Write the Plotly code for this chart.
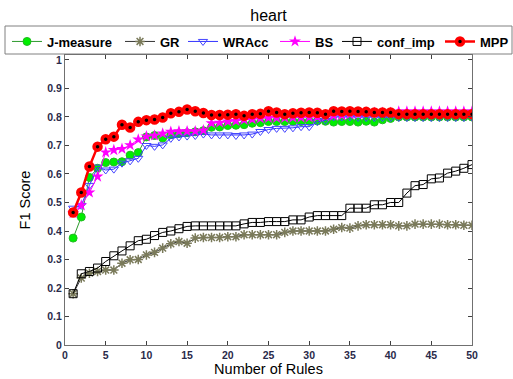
import plotly.graph_objects as go

rules = list(range(1, 51))

j_measure = [0.375, 0.449, 0.588, 0.620, 0.640, 0.642, 0.643, 0.666, 0.675, 0.730,
             0.735, 0.726, 0.738, 0.742, 0.745, 0.748, 0.752, 0.764, 0.765, 0.770,
             0.771, 0.773, 0.778, 0.780, 0.784, 0.784, 0.784, 0.785, 0.784, 0.785,
             0.786, 0.785, 0.782, 0.784, 0.784, 0.782, 0.785, 0.782, 0.790, 0.795,
             0.800, 0.800, 0.800, 0.800, 0.800, 0.800, 0.800, 0.800, 0.800, 0.800]

gr = [0.180, 0.235, 0.252, 0.258, 0.263, 0.263, 0.287, 0.299, 0.300, 0.316,
      0.325, 0.340, 0.355, 0.363, 0.357, 0.375, 0.377, 0.377, 0.377, 0.380,
      0.380, 0.387, 0.387, 0.387, 0.387, 0.387, 0.395, 0.400, 0.400, 0.400,
      0.400, 0.400, 0.406, 0.412, 0.410, 0.418, 0.422, 0.422, 0.422, 0.422,
      0.418, 0.418, 0.424, 0.424, 0.424, 0.424, 0.422, 0.422, 0.420, 0.420]

wracc = [0.480, 0.490, 0.560, 0.624, 0.614, 0.617, 0.638, 0.646, 0.655, 0.700,
         0.697, 0.702, 0.725, 0.730, 0.733, 0.735, 0.740, 0.737, 0.737, 0.737,
         0.735, 0.737, 0.740, 0.749, 0.756, 0.760, 0.760, 0.762, 0.766, 0.766,
         0.784, 0.788, 0.800, 0.800, 0.800, 0.798, 0.798, 0.798, 0.798, 0.798,
         0.798, 0.798, 0.798, 0.798, 0.798, 0.798, 0.798, 0.798, 0.798, 0.800]

bs = [0.463, 0.490, 0.535, 0.591, 0.676, 0.684, 0.688, 0.701, 0.721, 0.732,
      0.735, 0.742, 0.748, 0.750, 0.750, 0.750, 0.753, 0.778, 0.780, 0.784,
      0.786, 0.790, 0.792, 0.795, 0.797, 0.797, 0.797, 0.798, 0.798, 0.799,
      0.800, 0.802, 0.805, 0.806, 0.810, 0.812, 0.815, 0.815, 0.815, 0.815,
      0.819, 0.819, 0.819, 0.819, 0.819, 0.819, 0.819, 0.819, 0.819, 0.819]

conf_imp = [0.180, 0.250, 0.258, 0.270, 0.293, 0.313, 0.330, 0.348, 0.366, 0.371,
            0.384, 0.395, 0.400, 0.408, 0.416, 0.418, 0.418, 0.418, 0.418, 0.418,
            0.418, 0.425, 0.430, 0.430, 0.433, 0.433, 0.433, 0.439, 0.439, 0.449,
            0.454, 0.454, 0.454, 0.454, 0.480, 0.480, 0.480, 0.492, 0.492, 0.500,
            0.500, 0.533, 0.559, 0.563, 0.583, 0.586, 0.603, 0.610, 0.620, 0.633]

mpp = [0.465, 0.535, 0.626, 0.696, 0.722, 0.731, 0.773, 0.763, 0.783, 0.789,
       0.791, 0.798, 0.813, 0.818, 0.826, 0.820, 0.814, 0.807, 0.807, 0.808,
       0.810, 0.804, 0.810, 0.811, 0.820, 0.816, 0.810, 0.813, 0.815, 0.816,
       0.815, 0.810, 0.820, 0.819, 0.820, 0.819, 0.818, 0.816, 0.816, 0.816,
       0.810, 0.810, 0.810, 0.810, 0.810, 0.810, 0.810, 0.810, 0.810, 0.810]

series_names = ["J-measure", "GR", "WRAcc", "BS", "conf_imp", "MPP"]

x_ticks = list(range(0, 51, 5))
y_ticks = [round(0.1 * i, 1) for i in range(0, 11)]
y_tick_labels = ["0", "0.1", "0.2", "0.3", "0.4", "0.5", "0.6", "0.7", "0.8", "0.9", "1"]

FONT = "Liberation Sans, Arial, sans-serif"

# figure geometry (pixels)
W, H = 513, 379
ML, MR, MT, MB = 65, 41, 55, 34
PW, PH = W - ML - MR, H - MT - MB

def px_x(p):
    return (p - ML) / PW

def px_y(p):
    return (H - MB - p) / PH

# legend entry left edges (pixels) and legend box
legend_lefts = [7, 120, 183, 275, 337, 440]
legend_mid_y = 41.5
legend_box = (5, 26, 512, 54)

styles = [
    dict(line=dict(color="#2e9a2e", width=1),
         marker=dict(symbol="circle", size=8, color="#00ee00", line=dict(color="#22bb22", width=1))),
    dict(line=dict(color="#333333", width=1),
         marker=dict(symbol="asterisk-open", size=8, color="#7a7a5a", line=dict(color="#7a7a5a", width=1.5))),
    dict(line=dict(color="#3333ff", width=1),
         marker=dict(symbol="triangle-down-open", size=8, color="#4444ff", line=dict(color="#4444ff", width=1))),
    dict(line=dict(color="#ff00ff", width=1),
         marker=dict(symbol="star", size=9, color="#ff00ff", line=dict(color="#ff00ff", width=0))),
    dict(line=dict(color="#000000", width=1),
         marker=dict(symbol="square-open", size=8, color="#000000", line=dict(color="#000000", width=1))),
    dict(line=dict(color="#ff0000", width=2.5),
         marker=dict(symbol="circle", size=7, color="#000000", line=dict(color="#ff0000", width=3.5))),
]

values = [j_measure, gr, wracc, bs, conf_imp, mpp]

fig = go.Figure()
for i, (name, vals, st) in enumerate(zip(series_names, values, styles)):
    lg = "legend" if i == 0 else f"legend{i + 1}"
    fig.add_trace(go.Scatter(x=rules, y=vals, name=name, mode="lines+markers",
                             legend=lg, **st))

legend_layouts = {}
for i, left in enumerate(legend_lefts):
    key = "legend" if i == 0 else f"legend{i + 1}"
    legend_layouts[key] = dict(
        orientation="h", x=px_x(left), xanchor="left", y=px_y(legend_mid_y), yanchor="middle",
        bgcolor="rgba(0,0,0,0)", borderwidth=0, itemwidth=30,
        font=dict(size=13, family=FONT, color="#000000", weight="bold"))

fig.update_layout(
    width=W, height=H,
    margin=dict(l=ML, r=MR, t=MT, b=MB, autoexpand=False),
    paper_bgcolor="white", plot_bgcolor="white",
    font=dict(family=FONT, color="#000000"),
    title=dict(text="heart", x=0.5, xref="paper", xanchor="center",
               y=1 - 15 / H, yanchor="middle", font=dict(size=16, family=FONT, color="#000000")),
    showlegend=True,
    shapes=[dict(type="rect", xref="paper", yref="paper", layer="below",
                 x0=px_x(legend_box[0]), x1=px_x(legend_box[2]),
                 y0=px_y(legend_box[3]), y1=px_y(legend_box[1]),
                 line=dict(color="#808080", width=1), fillcolor="white")],
    **legend_layouts,
)

fig.update_xaxes(
    range=[0, 50], tickmode="array", tickvals=x_ticks,
    ticks="inside", ticklen=4, tickcolor="#404040",
    showline=True, linecolor="#707070", linewidth=1, mirror="ticks",
    showgrid=False, zeroline=False,
    tickfont=dict(size=10.5, family=FONT, color="#2a2a4a", weight="bold"),
    title=dict(text="Number of Rules", font=dict(size=14.5, family=FONT, color="#000000"), standoff=2),
)

fig.update_yaxes(
    range=[0, 1.0175], tickmode="array", tickvals=y_ticks, ticktext=y_tick_labels,
    ticks="inside", ticklen=4, tickcolor="#404040",
    showline=True, linecolor="#707070", linewidth=1, mirror="ticks",
    showgrid=False, zeroline=False,
    tickfont=dict(size=10.5, family=FONT, color="#2a2a4a", weight="bold"),
    title=dict(text="F1 Score", font=dict(size=14.5, family=FONT, color="#000000"), standoff=13),
)

fig.write_html("out.html")
